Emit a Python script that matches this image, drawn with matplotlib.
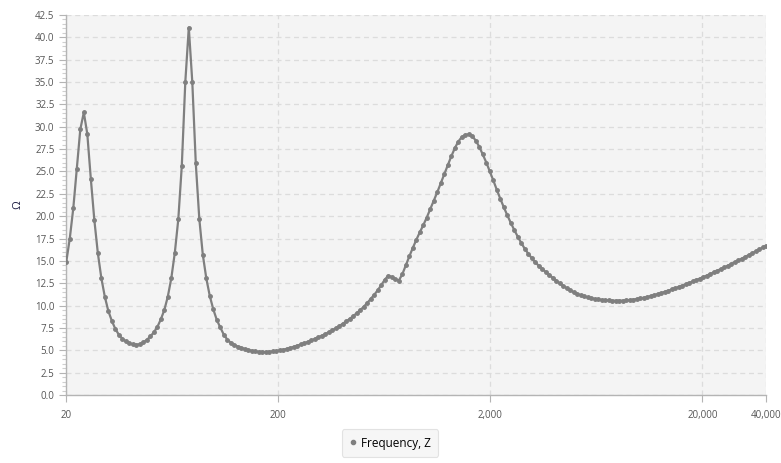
import matplotlib
matplotlib.use("Agg")
import matplotlib.pyplot as plt
from matplotlib.lines import Line2D
from matplotlib.ticker import MultipleLocator, NullLocator, FixedLocator, FormatStrFormatter

plt.rcParams["font.family"] = ["Open Sans", "DejaVu Sans"]

# sample frequencies (Hz), log spaced 20 Hz .. 40 kHz
freq_hz = [
    20.00, 20.77, 21.58, 22.42, 23.28, 24.19, 25.12, 26.10, 27.11, 28.16,
    29.25, 30.38, 31.56, 32.78, 34.05, 35.37, 36.74, 38.16, 39.64, 41.17,
    42.77, 44.43, 46.15, 47.93, 49.79, 51.72, 53.72, 55.80, 57.97, 60.21,
    62.54, 64.97, 67.48, 70.10, 72.81, 75.63, 78.56, 81.60, 84.77, 88.05,
    91.46, 95.00, 98.68, 102.5, 106.5, 110.6, 114.9, 119.3, 124.0, 128.8,
    133.7, 138.9, 144.3, 149.9, 155.7, 161.7, 168.0, 174.5, 181.3, 188.3,
    195.6, 203.2, 211.0, 219.2, 227.7, 236.5, 245.7, 255.2, 265.1, 275.4,
    286.0, 297.1, 308.6, 320.6, 333.0, 345.9, 359.3, 373.2, 387.6, 402.7,
    418.3, 434.5, 451.3, 468.8, 486.9, 505.8, 525.4, 545.7, 566.9, 588.8,
    611.6, 635.3, 659.9, 685.5, 712.1, 739.7, 768.3, 798.1, 829.0, 861.1,
    894.4, 929.1, 965.1, 1002, 1041, 1082, 1124, 1167, 1212, 1259,
    1308, 1359, 1411, 1466, 1523, 1582, 1643, 1707, 1773, 1841,
    1913, 1987, 2064, 2144, 2227, 2313, 2403, 2496, 2592, 2693,
    2797, 2905, 3018, 3135, 3256, 3382, 3513, 3650, 3791, 3938,
    4090, 4249, 4413, 4584, 4762, 4946, 5138, 5337, 5544, 5758,
    5981, 6213, 6454, 6704, 6963, 7233, 7513, 7804, 8107, 8421,
    8747, 9086, 9438, 9803, 10183, 10577, 10987, 11413, 11855, 12314,
    12791, 13287, 13801, 14336, 14891, 15468, 16067, 16690, 17336, 18007,
    18705, 19430, 20182, 20964, 21776, 22620, 23496, 24406, 25351, 26333,
    27353, 28413, 29514, 30657, 31844, 33078, 34359, 35691, 37072, 38508,
    40000,
]

# impedance magnitude (ohm)
impedance_ohm = [
    14.9, 17.5, 20.9, 25.3, 29.7, 31.6, 29.2, 24.2, 19.6, 15.9,
    13.1, 11.0, 9.4, 8.3, 7.4, 6.75, 6.3, 6.0, 5.8, 5.65,
    5.62, 5.68, 5.9, 6.15, 6.55, 7.0, 7.6, 8.45, 9.5, 11.0,
    13.05, 15.9, 19.65, 25.65, 35.0, 41.1, 35.0, 25.9, 19.7, 15.7,
    13.05, 11.07, 9.58, 8.4, 7.55, 6.75, 6.2, 5.85, 5.6, 5.42,
    5.28, 5.15, 5.03, 4.95, 4.88, 4.84, 4.82, 4.82, 4.84, 4.87,
    4.92, 4.98, 5.07, 5.16, 5.27, 5.39, 5.52, 5.65, 5.79, 5.94,
    6.1, 6.27, 6.45, 6.63, 6.82, 7.03, 7.24, 7.47, 7.71, 7.97,
    8.24, 8.52, 8.83, 9.16, 9.5, 9.88, 10.3, 10.75, 11.22, 11.73,
    12.3, 12.9, 13.35, 13.2, 12.95, 12.8, 13.5, 14.5, 15.5, 16.45,
    17.35, 18.2, 19.0, 19.85, 20.8, 21.75, 22.7, 23.7, 24.7, 25.7,
    26.7, 27.6, 28.35, 28.85, 29.1, 29.15, 28.95, 28.45, 27.75, 26.9,
    26.0, 25.0, 24.0, 22.95, 21.95, 21.0, 20.1, 19.25, 18.45, 17.7,
    17.0, 16.35, 15.8, 15.3, 14.85, 14.45, 14.1, 13.75, 13.42, 13.1,
    12.78, 12.48, 12.2, 11.95, 11.7, 11.5, 11.3, 11.15, 11.02, 10.92,
    10.83, 10.75, 10.69, 10.64, 10.6, 10.57, 10.55, 10.55, 10.55, 10.56,
    10.58, 10.62, 10.67, 10.73, 10.8, 10.88, 10.97, 11.07, 11.18, 11.29,
    11.41, 11.53, 11.66, 11.8, 11.94, 12.08, 12.23, 12.38, 12.54, 12.7,
    12.86, 13.02, 13.19, 13.36, 13.54, 13.72, 13.9, 14.08, 14.27, 14.46,
    14.65, 14.85, 15.05, 15.25, 15.45, 15.66, 15.87, 16.08, 16.29, 16.5,
    16.7,
]

x_ticks = [20, 200, 2000, 20000, 40000]
x_tick_labels = ["20", "200", "2,000", "20,000", "40,000"]
series_name = "Frequency, Z"

LINE = "#7f7f7f"
GRID = "#dcdcdc"
AXIS = "#b4b4b4"
TEXT = "#555555"

fig = plt.figure(figsize=(7.81, 4.63), dpi=100)
ax = fig.add_axes([66.3 / 781, 1 - 395 / 463, 700 / 781, 380 / 463])
ax.set_facecolor("#f4f4f4")

ax.plot(freq_hz, impedance_ohm, color=LINE, lw=1.6, marker="o", ms=2.5,
        mfc=LINE, mec=LINE, zorder=3)

ax.set_xscale("log")
ax.set_xlim(20, 40000)
ax.set_ylim(0, 42.5)
ax.xaxis.set_major_locator(FixedLocator(x_ticks))
ax.xaxis.set_minor_locator(NullLocator())
ax.set_xticklabels(x_tick_labels)
ax.yaxis.set_major_locator(MultipleLocator(2.5))
ax.yaxis.set_minor_locator(MultipleLocator(0.5))
ax.yaxis.set_major_formatter(FormatStrFormatter("%.1f"))

ax.grid(True, which="major", color=GRID, ls=(0, (4, 3)), lw=0.9, zorder=0)
ax.set_axisbelow(True)

for side in ("top", "right"):
    ax.spines[side].set_visible(False)
for side in ("left", "bottom"):
    ax.spines[side].set_color(AXIS)
    ax.spines[side].set_linewidth(1.0)

ax.tick_params(axis="both", which="major", colors=AXIS, labelcolor=TEXT,
               labelsize=7, length=5, width=0.8)
ax.tick_params(axis="y", which="minor", colors="#cfcfcf", length=3, width=0.8)
ax.tick_params(axis="x", pad=6)

ax.set_ylabel("Ω", fontsize=8, color="#1a1a40")
ax.yaxis.set_label_coords((24 - 66.3) / 700, 0.5)

handle = Line2D([], [], color=LINE, marker="o", ls="none", ms=3)
leg = fig.legend([handle], [series_name], loc="center",
                 bbox_to_anchor=(390 / 781, 1 - 443 / 463), fontsize=8.5,
                 frameon=True, fancybox=True, handlelength=0.6,
                 handletextpad=0.4, borderpad=0.6)
leg.get_frame().set_facecolor("#f4f4f4")
leg.get_frame().set_edgecolor("#dddddd")
leg.get_frame().set_linewidth(0.8)

fig.savefig("out.png", dpi=100, facecolor="white")
